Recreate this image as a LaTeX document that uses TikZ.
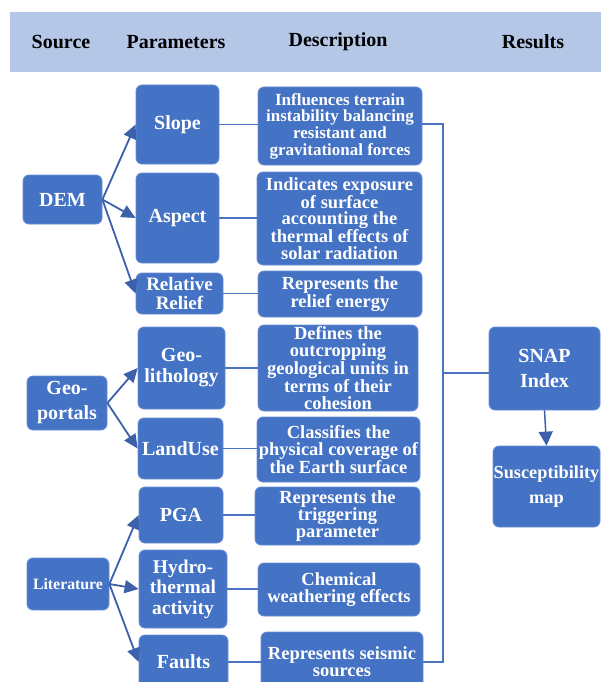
\documentclass[tikz,border=0pt]{standalone}
\usepackage{fontspec}
\setmainfont{Liberation Serif}
\usetikzlibrary{arrows.meta}
\definecolor{boxfill}{HTML}{4472C4}
\definecolor{boxedge}{HTML}{6A8FD4}
\definecolor{arrowc}{HTML}{3D60AA}
\definecolor{connc}{HTML}{4A74C2}
\definecolor{hdrc}{HTML}{B4C7E7}
\tikzset{
  bx/.style={draw=boxedge, line width=0.8pt, fill=boxfill, rounded corners=6pt,
    text=white, font=\bfseries, align=center, inner sep=0pt},
  parfont/.style={font=\bfseries\fontsize{20}{18.5}\selectfont},
  descfont/.style={font=\bfseries\fontsize{18.5}{16.7}\selectfont},
  arr/.style={draw=arrowc, line width=1.8pt, -{Triangle[length=14pt,width=13pt]}},
  conn/.style={draw=connc, line width=1.2pt},
  hdrtext/.style={font=\bfseries\fontsize{20}{20}\selectfont, text=black, inner sep=0pt}
}
\begin{document}
\begin{tikzpicture}[x=1pt,y=-1pt]
\useasboundingbox (0,0) rectangle (601,682);
\clip (0,0) rectangle (601,682);
\fill[white] (0,0) rectangle (601,682);
% header
\fill[hdrc] (10,12) rectangle (601,72);
\node[hdrtext] (h1) at (61,42) {Source};
\node[hdrtext] (h2) at (176,42) {Parameters};
\node[hdrtext] (h3) at (338,42) {Description};
\node[hdrtext] (h4) at (533,42) {Results};
% sources
\node[bx,parfont,minimum width=79pt,minimum height=49pt] (dem) at (62.5,199.5) {DEM};
\node[bx,font=\bfseries\fontsize{20}{25}\selectfont,minimum width=80pt,minimum height=54pt] (geop) at (67,403) {Geo-\\portals};
\node[bx,font=\bfseries\fontsize{15.8}{16}\selectfont,minimum width=82pt,minimum height=52pt] (lit) at (68,584) {Literature};
% parameters
\node[bx,parfont,minimum width=83pt,minimum height=79pt] (slope) at (177.5,124.5) {Slope};
\node[bx,parfont,minimum width=83pt,minimum height=90pt] (aspect) at (177.5,218) {Aspect};
\node[bx,font=\bfseries\fontsize{19}{19.5}\selectfont,minimum width=87pt,minimum height=41pt] (relief) at (179.5,293.5) {Relative\\Relief};
\node[bx,font=\bfseries\fontsize{20}{21}\selectfont,minimum width=87pt,minimum height=82pt] (geol) at (181.5,368) {Geo-\\lithology};
\node[bx,parfont,minimum width=85pt,minimum height=61pt] (land) at (180.5,448.5) {LandUse};
\node[bx,parfont,minimum width=84pt,minimum height=56pt] (pga) at (181,515) {PGA};
\node[bx,font=\bfseries\fontsize{19.5}{20.5}\selectfont,minimum width=88pt,minimum height=78pt] (hydro) at (183,589) {Hydro-\\thermal\\activity};
\node[bx,parfont,minimum width=89pt,minimum height=54pt] (faults) at (183.5,662) {Faults};
% descriptions
\node[bx,font=\bfseries\fontsize{17}{16.7}\selectfont,minimum width=164pt,minimum height=78pt] (sd) at (340,126) {Influences terrain\\instability balancing\\resistant and\\gravitational forces};
\node[bx,descfont,minimum width=165pt,minimum height=93pt] (ad) at (339.5,218.5) {Indicates exposure\\of surface\\accounting the\\thermal effects of\\solar radiation};
\node[bx,descfont,minimum width=164pt,minimum height=46pt] (rd) at (340,294) {Represents the\\relief energy};
\node[bx,descfont,minimum width=160pt,minimum height=86pt] (gd) at (338,368) {Defines the\\outcropping\\geological units in\\terms of their\\cohesion};
\node[bx,descfont,minimum width=163pt,minimum height=65pt] (ld) at (338.5,449.5) {Classifies the\\physical coverage of\\the Earth surface};
\node[bx,descfont,minimum width=165pt,minimum height=58pt] (pd) at (337.5,516) {Represents the\\triggering\\parameter};
\node[bx,descfont,minimum width=162pt,minimum height=53pt] (hd) at (339,589.5) {Chemical\\weathering effects};
\node[bx,descfont,minimum width=162pt,minimum height=60pt] (fd) at (342,662) {Represents seismic\\sources};
% results
\node[bx,font=\bfseries\fontsize{20}{25}\selectfont,minimum width=111pt,minimum height=83pt] (snap) at (544.5,368.5) {SNAP\\Index};
\node[bx,font=\bfseries\fontsize{18.3}{25}\selectfont,minimum width=107pt,minimum height=81pt] (susc) at (546.5,486.5) {Susceptibility\\map};
% arrows from sources
\draw[arr] (dem.east) -- (slope.west);
\draw[arr] (dem.east) -- (aspect.west);
\draw[arr] (dem.east) -- (relief.west);
\draw[arr] (geop.east) -- (geol.west);
\draw[arr] (geop.east) -- (land.west);
\draw[arr] (lit.east) -- (pga.west);
\draw[arr] (lit.east) -- (hydro.west);
\draw[arr] (lit.east) -- (faults.west);
% parameter to description
\draw[conn] (slope.east) -- (slope.east -| sd.west);
\draw[conn] (aspect.east) -- (aspect.east -| ad.west);
\draw[conn] (relief.east) -- (relief.east -| rd.west);
\draw[conn] (geol.east) -- (geol.east -| gd.west);
\draw[conn] (land.east) -- (land.east -| ld.west);
\draw[conn] (pga.east) -- (pga.east -| pd.west);
\draw[conn] (hydro.east) -- (hydro.east -| hd.west);
\draw[conn] (faults.east) -- (faults.east -| fd.west);
% bracket
\coordinate (bt) at (443,124);
\coordinate (bb) at (443,662);
\coordinate (bm) at (443,373);
\draw[conn] (sd.east |- bt) -- (bt) -- (bb) -- (fd.east |- bb);
\draw[conn] (bm) -- (bm -| snap.west);
\draw[draw=arrowc, line width=1.5pt, -{Triangle[length=14pt,width=14pt]}] (snap.south) -- (susc.north);
\end{tikzpicture}
\end{document}
